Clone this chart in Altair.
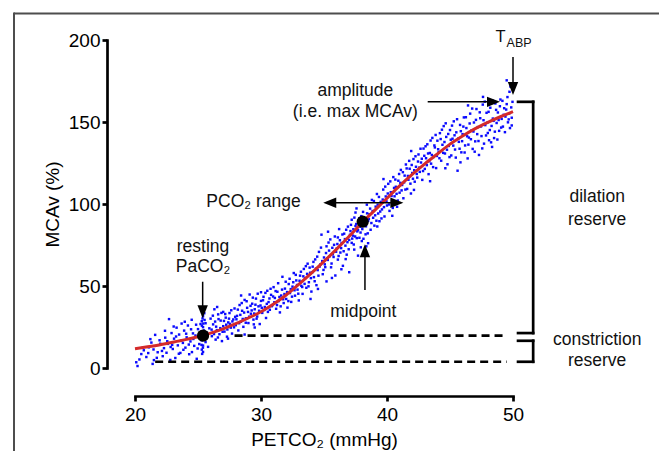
import altair as alt
import pandas as pd

# ---------------- data ----------------
curve_petco2 = [20, 21, 22, 23, 24, 25, 26, 27, 28, 29, 30, 31, 32, 33, 34, 35,
                36, 37, 38, 39, 40, 41, 42, 43, 44, 45, 46, 47, 48, 49, 50]
curve_mcav = [11.7, 12.9, 14.2, 15.7, 17.3, 19.1, 21.3, 23.9, 27.0, 30.5, 34.3,
              39.0, 44.5, 51.0, 57.8, 65.0, 72.5, 80.3, 88.5, 96.0, 103.5, 111.0,
              118.0, 124.5, 130.5, 136.5, 141.5, 146.0, 149.8, 153.2, 156.3]

scatter_points_a = [
    (20.1, 3.5), (20.2, 1.2), (20.5, 8.5), (20.7, 10.8), (21.1, 12.6), (21.4, 2.5),
    (21.5, 4.8), (21.6, 20.2), (21.8, 9.6), (22.0, 14.8), (21.3, 15.5), (20.9, 6.7),
    (22.2, 7.2), (22.3, 12.1), (22.4, 18.5), (22.5, 9.3), (22.6, 14.7), (22.7, 29.8),
    (22.8, 4.9), (22.9, 21.3), (23.0, 11.6), (23.1, 17.9), (23.2, 6.1), (23.3, 24.6),
    (23.4, 13.8), (23.5, 20.4), (23.6, 9.2), (23.7, 27.1), (23.8, 15.3), (23.9, 22.8),
    (24.0, 12.4), (24.1, 18.7), (24.2, 25.9), (24.3, 8.4), (24.4, 16.2), (24.5, 29.4),
    (24.6, 21.1), (24.7, 13.5), (24.8, 19.8), (24.9, 5.6),
    (25.0, 23.7), (25.1, 14.6), (25.2, 26.8), (25.3, 11.2), (25.3, 16.9), (25.3, 22.4),
    (25.3, 28.5), (25.4, 9.8), (25.4, 13.7), (25.4, 31.6), (25.4, 24.9), (25.5, 18.2),
    (25.5, 33.4), (25.6, 15.8), (25.6, 27.3), (25.7, 21.5), (25.8, 12.9), (25.9, 24.2),
    (26.0, 30.1), (26.1, 19.4), (26.2, 26.6), (26.3, 35.8), (26.4, 17.3), (26.5, 23.1),
    (26.6, 32.7), (26.7, 20.6), (26.8, 28.9), (26.9, 16.4), (27.0, 25.5), (27.0, 34.2),
    (27.1, 22.2), (27.2, 30.7), (27.3, 19.1), (27.4, 27.8), (27.5, 33.5), (27.6, 24.6),
    (27.7, 21.0), (27.8, 29.6), (27.9, 36.3), (28.0, 26.1),
    (28.1, 31.8), (28.2, 22.9), (28.3, 38.4), (28.4, 28.2), (28.5, 34.9), (28.6, 25.1),
    (28.7, 41.5), (28.8, 30.3), (28.9, 36.7), (29.0, 27.4), (29.1, 44.8), (29.2, 33.1),
    (29.3, 39.2), (29.4, 29.5), (29.5, 35.8), (29.6, 42.3), (29.7, 31.4), (29.8, 37.6),
    (29.9, 26.8), (30.0, 40.9), (30.0, 46.2), (29.5, 24.7), (28.7, 20.4),
    (30.1, 33.6), (30.2, 43.4), (30.3, 37.2), (30.4, 30.5), (30.5, 47.1), (30.6, 40.2),
    (30.7, 35.5), (30.8, 44.6), (30.9, 38.3), (31.0, 49.3), (31.1, 42.7), (31.2, 36.1),
    (31.3, 46.5), (31.4, 40.8), (31.5, 33.9), (31.6, 44.2), (31.7, 55.6), (31.8, 39.6),
    (31.9, 48.4), (32.0, 42.1), (32.1, 36.8), (32.2, 51.2), (32.3, 45.7), (32.4, 40.3),
    (32.5, 49.6), (32.6, 57.9),
    (32.7, 44.1), (32.8, 53.4), (32.9, 47.8), (33.0, 41.2), (33.1, 56.3), (33.2, 50.1),
    (33.3, 45.2), (33.4, 60.4), (33.5, 54.7), (33.6, 48.9), (33.7, 63.6), (33.8, 52.3),
    (33.9, 58.1), (34.0, 46.6), (34.1, 61.8), (34.2, 55.4), (34.3, 66.2), (34.4, 50.5),
    (34.5, 59.7), (34.6, 70.8), (34.7, 63.1), (34.8, 81.3), (34.9, 57.2),
    (35.0, 67.4), (35.1, 61.5), (35.2, 74.2), (35.2, 52.8), (35.3, 65.9), (35.4, 71.6),
    (35.5, 78.4), (35.6, 63.7), (35.7, 69.3), (35.8, 75.1), (35.9, 56.4), (36.0, 72.8),
    (36.1, 79.6), (36.1, 66.1), (36.2, 84.7), (36.3, 70.4), (36.4, 76.2), (36.5, 62.3),
    (36.6, 81.9), (36.7, 74.6), (36.8, 69.1), (36.9, 86.2), (37.0, 78.1), (37.0, 58.4),
    (37.1, 83.5), (37.2, 76.3), (37.2, 90.4), (37.3, 80.7), (37.4, 72.2), (37.5, 86.6),
    (37.5, 94.8), (37.6, 79.2), (37.7, 84.1), (37.7, 68.5), (37.8, 91.3), (37.9, 82.6),
    (38.0, 77.4), (38.1, 95.2), (38.2, 86.9), (38.2, 71.8), (38.3, 81.5), (38.4, 99.6),
    (38.5, 89.7), (38.5, 76.1),
    (38.6, 93.8), (38.7, 84.3), (38.8, 102.5), (38.9, 91.6), (39.0, 86.8), (39.1, 98.4),
    (39.2, 106.1), (39.3, 94.2), (39.4, 89.5), (39.5, 101.3), (39.6, 96.7), (39.7, 108.8),
    (39.8, 92.4), (39.9, 104.6), (40.0, 99.1), (40.1, 112.3), (40.2, 95.8), (40.3, 107.2),
    (40.4, 101.9), (40.5, 116.4), (40.6, 104.7), (40.7, 110.5), (40.8, 98.3),
    (40.9, 114.2), (41.0, 106.9), (41.1, 120.8), (41.2, 111.6), (41.3, 103.5), (41.4, 117.3),
    (41.5, 124.1), (41.6, 109.2), (41.7, 114.8), (41.8, 121.5), (41.9, 106.4), (42.0, 118.9),
    (42.1, 127.4), (42.2, 113.6), (42.3, 122.7), (42.4, 116.1),
    (42.5, 130.2), (42.6, 119.6), (42.7, 125.3), (42.8, 114.7), (42.9, 133.8), (43.0, 121.4),
    (43.1, 127.9), (43.2, 136.4), (43.3, 118.2), (43.4, 131.1), (43.5, 124.6), (43.6, 140.3),
    (43.7, 128.7), (43.8, 134.5), (43.9, 121.9), (44.0, 138.6), (44.1, 131.7), (44.2, 143.2),
    (44.3, 126.4),
    (44.4, 136.1), (44.5, 147.5), (44.6, 130.8), (44.7, 140.9), (44.8, 124.2), (44.9, 135.4),
    (45.0, 145.1), (45.1, 129.6), (45.2, 139.8), (45.3, 150.4), (45.4, 133.2), (45.5, 143.7),
    (45.6, 120.3), (45.7, 137.9), (45.8, 148.2), (45.9, 131.5), (46.0, 142.6),
    (46.1, 152.8), (46.2, 135.7), (46.3, 146.3), (46.4, 127.8), (46.5, 140.5), (46.6, 155.1),
    (46.7, 144.8), (46.8, 133.6), (46.9, 149.7), (47.0, 138.2), (47.1, 157.9), (47.2, 146.9),
    (47.3, 129.9), (47.4, 152.3), (47.5, 141.4), (47.6, 160.6), (47.7, 136.8), (47.8, 148.1),
    (47.9, 155.6), (48.0, 143.3),
    (48.1, 138.9), (48.2, 158.7), (48.3, 147.6), (48.4, 152.1), (48.5, 140.2), (48.6, 161.3),
    (48.7, 149.4), (48.8, 155.8), (48.9, 144.6), (49.0, 163.7), (49.1, 151.9), (49.2, 147.2),
    (49.3, 158.4), (49.4, 153.3), (49.5, 160.9), (49.6, 149.8), (49.7, 155.2), (49.8, 171.6),
    (49.9, 152.6), (49.5, 175.4), (49.9, 147.9),
]

scatter_points_b = [
    (20.35, 5.2), (20.62, 12.4), (21.05, 9.1), (21.22, 17.6), (21.47, 11.3), (21.73, 6.2),
    (21.95, 16.9), (22.14, 10.4), (22.38, 22.7), (22.56, 16.3), (22.83, 12.8), (23.07, 25.3),
    (23.26, 19.2), (23.48, 8.7), (23.66, 16.6), (23.84, 11.1), (24.06, 20.9), (24.27, 14.3),
    (24.45, 23.6), (24.63, 17.7), (24.85, 26.4), (24.97, 11.9), (23.95, 28.2), (22.95, 14.1),
    (24.52, 9.7),
    (25.22, 18.9), (25.28, 14.1), (25.31, 25.8), (25.34, 20.5), (25.36, 30.2), (25.39, 12.4),
    (25.42, 27.1), (25.47, 22.9), (25.33, 8.6), (25.52, 29.3),
    (26.08, 23.4), (26.18, 31.9), (26.27, 20.7), (26.36, 28.3), (26.44, 25.2), (26.58, 18.6),
    (26.63, 29.8), (26.77, 24.3), (26.86, 33.6), (26.95, 22.1), (27.06, 28.7), (27.16, 32.9),
    (27.24, 26.4), (27.33, 23.5), (27.46, 30.1), (27.53, 26.9), (27.64, 35.2), (27.73, 28.4),
    (27.86, 24.8), (27.95, 31.2), (26.52, 37.2), (27.38, 17.9),
    (28.05, 29.7), (28.16, 35.6), (28.27, 27.3), (28.36, 32.4), (28.47, 39.6), (28.55, 29.9),
    (28.66, 33.8), (28.79, 27.6), (28.86, 40.7), (28.97, 34.2), (29.06, 31.3), (29.17, 37.9),
    (29.26, 35.1), (29.35, 42.9), (29.46, 33.2), (29.56, 38.6), (29.65, 30.1), (29.74, 45.3),
    (29.85, 34.9), (29.96, 38.1), (28.42, 44.2), (29.43, 26.6),
    (30.06, 36.7), (30.16, 41.3), (30.26, 35.4), (30.35, 45.8), (30.46, 39.1), (30.55, 34.2),
    (30.67, 42.4), (30.76, 48.3), (30.86, 37.7), (30.96, 43.6), (31.06, 40.1), (31.16, 46.9),
    (31.27, 38.4), (31.36, 51.7), (31.46, 43.3), (31.56, 37.6), (31.67, 47.8), (31.76, 41.9),
    (31.86, 45.1), (31.96, 52.6), (32.07, 46.3), (32.17, 40.8), (32.27, 54.4), (32.36, 48.1),
    (32.46, 43.5), (32.56, 52.3),
    (32.66, 47.4), (32.76, 56.8), (32.86, 50.6), (32.96, 45.3), (33.06, 53.2), (33.17, 58.7),
    (33.27, 49.4), (33.36, 55.9), (33.46, 51.3), (33.56, 62.1), (33.66, 57.4), (33.77, 49.8),
    (33.86, 61.2), (33.96, 54.8), (34.06, 58.3), (34.16, 64.7), (34.26, 52.9), (34.36, 60.6),
    (34.46, 67.9), (34.56, 56.3), (34.66, 61.9), (34.76, 73.4), (34.86, 65.2), (34.96, 59.8),
    (33.93, 42.1), (34.52, 48.2),
    (35.06, 63.2), (35.16, 70.1), (35.26, 66.8), (35.36, 76.5), (35.46, 68.2), (35.56, 61.4),
    (35.66, 73.3), (35.76, 67.7), (35.86, 80.2), (35.96, 70.9), (36.06, 75.6), (36.16, 68.3),
    (36.26, 77.9), (36.36, 73.1), (36.46, 81.4), (36.56, 71.2), (36.66, 78.6), (36.76, 84.3),
    (36.86, 76.7), (36.96, 72.4), (35.63, 54.9), (36.38, 60.2), (36.72, 66.4), (35.32, 83.1),
    (37.06, 81.2), (37.14, 87.3), (37.24, 78.9), (37.33, 84.6), (37.41, 91.7), (37.47, 80.2),
    (37.56, 87.8), (37.64, 83.3), (37.73, 89.2), (37.81, 79.4), (37.88, 86.1), (37.96, 92.6),
    (38.04, 84.7), (38.13, 78.8), (38.24, 91.1), (38.33, 86.4), (38.42, 94.3), (38.47, 82.1),
    (37.36, 75.3), (37.92, 73.6), (38.16, 68.9), (38.36, 74.2), (37.58, 97.3),
    (38.56, 90.9), (38.66, 97.2), (38.76, 88.4), (38.86, 95.7), (38.96, 101.8), (39.06, 93.1),
    (39.16, 89.8), (39.26, 99.6), (39.36, 104.3), (39.46, 95.4), (39.56, 91.2), (39.66, 102.7),
    (39.76, 98.1), (39.86, 110.6), (39.96, 101.6), (40.06, 106.4), (40.16, 99.7), (40.26, 113.8),
    (40.36, 104.9), (40.46, 97.6), (40.56, 109.8), (40.66, 114.9), (40.76, 106.2), (40.86, 102.1),
    (40.96, 118.3), (39.23, 86.3), (40.42, 92.8), (39.72, 115.2),
    (41.06, 112.9), (41.16, 108.3), (41.26, 119.4), (41.36, 113.2), (41.46, 108.8), (41.56, 121.7),
    (41.66, 117.1), (41.76, 126.3), (41.86, 112.4), (41.96, 123.8), (42.06, 115.4), (42.16, 120.6),
    (42.26, 129.1), (42.36, 118.3), (42.46, 125.9), (42.56, 122.2), (42.66, 133.7), (42.76, 127.6),
    (42.86, 120.1), (42.96, 129.4), (43.06, 135.2), (43.16, 123.7), (43.26, 130.8), (43.36, 126.1),
    (43.46, 138.7), (43.56, 129.9), (43.66, 122.5), (43.76, 135.7), (43.86, 142.1), (43.96, 129.3),
    (42.14, 108.6), (43.42, 113.9), (41.92, 132.3),
    (44.06, 133.4), (44.16, 127.9), (44.26, 139.6), (44.36, 145.3), (44.46, 131.2), (44.56, 137.8),
    (44.66, 149.2), (44.76, 133.1), (44.86, 142.7), (44.96, 128.6), (45.06, 139.2), (45.16, 147.8),
    (45.26, 135.6), (45.36, 141.9), (45.46, 128.3), (45.56, 151.7), (45.66, 139.9), (45.76, 133.7),
    (45.86, 144.4), (45.96, 138.3), (46.06, 147.2), (46.16, 131.4), (46.26, 152.9), (46.36, 141.3),
    (46.46, 136.2), (46.56, 149.1), (46.66, 139.5), (46.76, 158.2), (46.86, 144.2), (46.96, 131.9),
    (44.63, 121.8), (45.83, 125.4), (46.43, 160.1),
    (47.06, 151.3), (47.16, 142.6), (47.26, 138.4), (47.36, 155.9), (47.46, 147.3), (47.56, 133.9),
    (47.66, 151.1), (47.76, 162.4), (47.86, 141.8), (47.96, 149.6), (48.06, 156.2), (48.16, 145.1),
    (48.26, 137.6), (48.36, 163.2), (48.46, 150.7), (48.56, 144.1), (48.66, 157.4), (48.76, 139.3),
    (48.86, 151.2), (48.96, 159.6), (49.06, 146.6), (49.16, 162.9), (49.26, 154.4), (49.36, 143.8),
    (49.46, 157.6), (49.56, 165.2), (49.66, 151.6), (49.76, 146.3), (49.86, 158.9), (49.96, 162.3),
    (47.62, 165.3), (48.34, 134.8), (49.72, 168.4),
]

key_points_x = [25.4, 38.07]      # resting PaCO2, midpoint
key_points_y = [19.7, 89.2]

dashed_y = [19.7, 3.8]
dashed_x_start = [27.9, 21.6]
dashed_x_end = [49.5, 49.5]

bracket_segments = [  # (x, y, x2, y2)
    (50.4, 162.3, 51.6, 162.3), (51.6, 162.3, 51.6, 21.3), (51.6, 21.3, 50.4, 21.3),
    (50.4, 16.6, 51.6, 16.6), (51.6, 16.6, 51.6, 3.8), (51.6, 3.8, 50.4, 3.8),
]

arrows = [  # (x_start, y_start, x_tip, y_tip)
    (50.0, 189.6, 50.0, 166.5),     # T_ABP
    (43.23, 162.3, 48.97, 162.3),   # amplitude
    (38.25, 47.6, 38.25, 75.5),     # midpoint
    (25.37, 52.6, 25.37, 30.3),     # resting PaCO2
    (38.1, 100.8, 34.94, 100.8),    # PCO2 range (left head)
    (38.1, 100.8, 41.3, 100.8),     # PCO2 range (right head)
]

center_labels = ["amplitude", "(i.e. max MCAv)", "midpoint", "resting", "PaCO\u2082",
                 "dilation", "reserve", "constriction", "reserve", "T"]
center_x = [37.49, 37.49, 38.12, 25.4, 25.4, 56.68, 56.68, 56.68, 56.68, 49.02]
center_y = [168.9, 156.1, 34.3, 73.9, 61.8, 104.3, 90.2, 17.1, 4.5, 201.6]
center_size = [17.5, 17.5, 17.5, 17.5, 17.5, 17.5, 17.5, 17.5, 17.5, 16.5]

right_labels = ["PCO\u2082 range"]
right_x = [33.15]
right_y = [101.5]

left_labels = ["ABP"]
left_x = [49.49]
left_y = [198.2]

# ---------------- build tables ----------------
FONT = "Liberation Sans"
df_scatter = pd.DataFrame(scatter_points_a + scatter_points_b, columns=["x", "y"])
df_curve = pd.DataFrame({"x": curve_petco2, "y": curve_mcav})
df_keys = pd.DataFrame({"x": key_points_x, "y": key_points_y})
df_dash = pd.DataFrame({"x": dashed_x_start, "x2": dashed_x_end, "y": dashed_y})
df_brk = pd.DataFrame(bracket_segments, columns=["x", "y", "x2", "y2"])

line_rows, head_rows = [], []
for xs0, ys0, xt, yt in arrows:
    if xt > xs0:
        ang, ex, ey = 0, xt - 0.5, yt
    elif xt < xs0:
        ang, ex, ey = 180, xt + 0.5, yt
    elif yt < ys0:
        ang, ex, ey = 90, xt, yt + 4.0
    else:
        ang, ex, ey = 270, xt, yt - 4.0
    line_rows.append({"x": xs0, "y": ys0, "x2": ex, "y2": ey})
    head_rows.append({"x": xt, "y": yt, "angle": ang})
df_lines = pd.DataFrame(line_rows)
df_heads = pd.DataFrame(head_rows)

df_ctext = pd.DataFrame({"x": center_x, "y": center_y, "label": center_labels, "size": center_size})
df_rtext = pd.DataFrame({"x": right_x, "y": right_y, "label": right_labels})
df_ltext = pd.DataFrame({"x": left_x, "y": left_y, "label": left_labels})
df_one = pd.DataFrame({"a": [0]})

# ---------------- scales & axes ----------------
xscale = alt.Scale(domain=[20, 50], nice=False, zero=False)
yscale = alt.Scale(domain=[0, 200], nice=False, zero=False)
common_axis = dict(grid=False, domainColor="black", domainWidth=2.7, domainCap="square",
                   tickColor="black", tickWidth=2.7, tickSize=5, labelFont=FONT,
                   labelFontSize=19, labelColor="black", titleFont=FONT, titleFontSize=19,
                   titleFontWeight="normal", titleColor="black", labelOverlap=False,
                   labelFlush=False)
xaxis = alt.Axis(values=[20, 30, 40, 50], offset=28, title="PETCO\u2082 (mmHg)",
                 labelPadding=4, titlePadding=6, **common_axis)
yaxis = alt.Axis(values=[0, 50, 100, 150, 200], offset=28, title="MCAv (%)",
                 labelPadding=2, titlePadding=6, **common_axis)


def X(f="x"):
    return alt.X(f, type="quantitative", scale=xscale, axis=xaxis)


def Y(f="y"):
    return alt.Y(f, type="quantitative", scale=yscale, axis=yaxis)


frame_top = alt.Chart(df_one).mark_rule(color="#4d4d4d", strokeWidth=2).encode(
    x=alt.value(-121), x2=alt.value(530), y=alt.value(-26.5))
frame_left = alt.Chart(df_one).mark_rule(color="#4d4d4d", strokeWidth=2).encode(
    x=alt.value(-121), y=alt.value(-27.5), y2=alt.value(420))

scatter = alt.Chart(df_scatter).mark_square(size=6, color="#0a0aff", opacity=1).encode(
    x=X(), y=Y())
curve = alt.Chart(df_curve).mark_line(color="#d42a2a", strokeWidth=3, interpolate="monotone").encode(
    x=X(), y=Y())
dashed = alt.Chart(df_dash).mark_rule(color="black", strokeWidth=2.7, strokeDash=[8, 5]).encode(
    x=X(), x2="x2", y=Y())
brackets = alt.Chart(df_brk).mark_rule(color="black", strokeWidth=2.7, strokeCap="square").encode(
    x=X(), y=Y(), x2="x2", y2="y2")
arrow_lines = alt.Chart(df_lines).mark_rule(color="black", strokeWidth=1.5).encode(
    x=X(), y=Y(), x2="x2", y2="y2")
arrow_heads = alt.Chart(df_heads).mark_point(
    shape="M 0 0 L -2 -0.8 L -2 0.8 Z", filled=True, color="black", opacity=1,
    size=169, strokeWidth=0).encode(
    x=X(), y=Y(), angle=alt.Angle("angle:Q", scale=None))
keys = alt.Chart(df_keys).mark_circle(size=150, color="black", opacity=1).encode(
    x=X(), y=Y())
ctext = alt.Chart(df_ctext).mark_text(font=FONT, color="#111", align="center", baseline="middle").encode(
    x=X(), y=Y(), text="label:N", size=alt.Size("size:Q", scale=None))
rtext = alt.Chart(df_rtext).mark_text(font=FONT, color="#111", align="right", baseline="middle",
                                      fontSize=17.5).encode(x=X(), y=Y(), text="label:N")
ltext = alt.Chart(df_ltext).mark_text(font=FONT, color="#111", align="left", baseline="middle",
                                      fontSize=12.5).encode(x=X(), y=Y(), text="label:N")

chart = alt.layer(
    frame_top, frame_left, scatter, curve, dashed, brackets, arrow_lines, arrow_heads,
    keys, ctext, rtext, ltext
).properties(
    width=378, height=328,
    padding={"left": 127, "top": 32, "right": 146, "bottom": 83},
    autosize=alt.AutoSizeParams(type="none"),
).configure_view(stroke=None)

chart.save("out.html", embed_options={"renderer": "svg", "actions": False})
